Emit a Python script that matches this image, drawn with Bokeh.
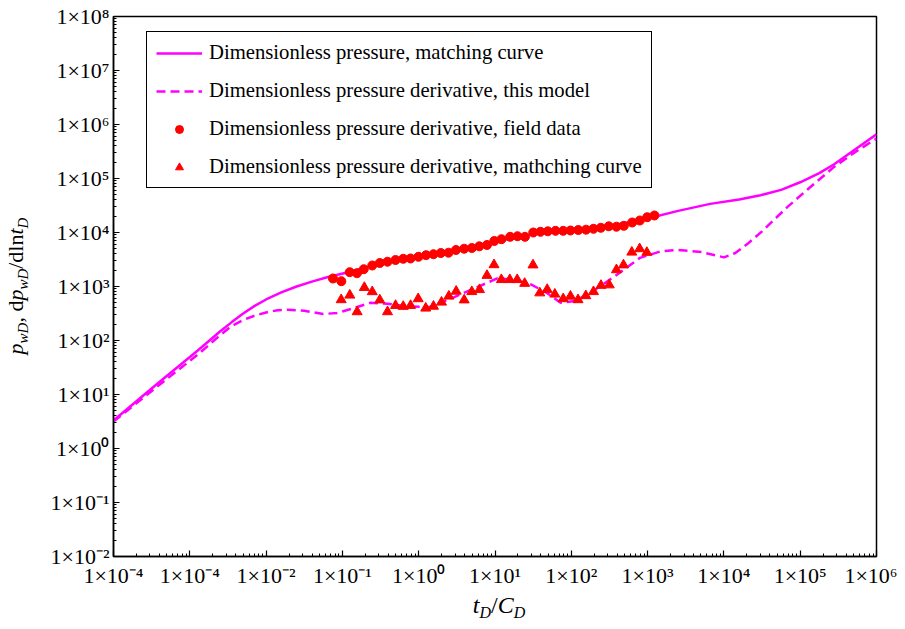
from bokeh.plotting import figure
from bokeh.models import FixedTicker, Legend, LegendItem, Div
from bokeh.layouts import row, column
from bokeh.embed import file_html
from bokeh.resources import INLINE

# Dimensionless pressure, matching curve (solid)
curve_t = [1e-4, 3.55e-4, 1.26e-3, 1.78e-3, 2.51e-3, 3.55e-3, 5.01e-3, 7.08e-3, 0.01, 0.0158,
           0.0251, 0.0398, 0.0631, 0.115, 0.316, 1.0, 3.16, 10.0, 31.6, 100.0, 316.0,
           1000.0, 2512.0, 6607.0, 15849.0, 30200.0, 56234.0, 1e5, 177828.0, 275423.0,
           501187.0, 1e6]
curve_p = [3.31, 14.8, 64.6, 98.0, 148.0, 219.0, 316.0, 437.0, 575.0, 776.0,
           1000.0, 1230.0, 1479.0, 1820.0, 2630.0, 3631.0, 4898.0, 6761.0, 9333.0, 11220.0, 13183.0,
           18197.0, 25119.0, 33884.0, 40738.0, 48978.0, 61660.0, 85114.0, 125893.0, 181970.0,
           331131.0, 660693.0]

# Dimensionless pressure derivative, this model (dashed)
deriv_t = [1e-4, 3.55e-4, 1.38e-3, 2.24e-3, 3.39e-3, 5.01e-3, 7.08e-3, 0.01, 0.0141, 0.0191,
           0.0316, 0.0562, 0.0851, 0.141, 0.234, 0.389, 0.776, 1.41, 2.88, 5.25, 10.7, 17.4,
           29.5, 47.9, 72.4, 112.0, 200.0, 380.0, 794.0, 1479.0, 2455.0, 5012.0, 1e4,
           14125.0, 20417.0, 31623.0, 67608.0, 125893.0, 275423.0, 501187.0, 1e6]
deriv_p = [3.16, 13.2, 60.3, 110.0, 178.0, 240.0, 288.0, 331.0, 363.0, 372.0,
           355.0, 309.0, 324.0, 398.0, 501.0, 479.0, 427.0, 417.0, 631.0, 912.0, 1413.0, 1349.0,
           1096.0, 759.0, 501.0, 537.0, 851.0, 1585.0, 3388.0, 4467.0, 4786.0, 4365.0, 3467.0,
           4169.0, 6166.0, 10471.0, 29512.0, 63096.0, 162181.0, 295121.0, 549541.0]

# Dimensionless pressure derivative, field data (circles)
field_t = [0.0753, 0.0968, 0.1247, 0.1552, 0.1905, 0.246, 0.309, 0.390, 0.497, 0.627,
           0.782, 0.993, 1.247, 1.563, 1.950, 2.46, 3.08, 3.94, 4.97, 6.22,
           7.85, 9.79, 12.16, 15.8, 19.7, 24.7, 31.7, 39.4, 49.2, 62.1,
           78.3, 97.5, 123.6, 156.0, 195.4, 244.0, 310.0, 391.0, 488.0, 628.0,
           791.0, 989.0, 1230.0]
field_d = [1406, 1253, 1841, 1762, 2089, 2449, 2723, 2877, 3097, 3258,
           3304, 3548, 3802, 3963, 4169, 4227, 4742, 5012, 5164, 5546,
           5875, 6966, 7516, 8318, 8531, 8318, 10000, 10304, 10520, 10740,
           10740, 10890, 11117, 11272, 11722, 12218, 13032, 12794, 13305, 15311,
           16672, 19187, 20654]

# Dimensionless pressure derivative, matching curve (triangles)
match_t = [0.0964, 0.125, 0.156, 0.194, 0.246, 0.309, 0.390, 0.497, 0.627, 0.782,
           0.984, 1.236, 1.563, 1.991, 2.483, 3.097, 3.945, 4.966, 6.266, 7.852,
           9.705, 12.11, 15.63, 19.54, 24.49, 31.48, 38.64, 48.31, 60.81, 78.34,
           97.5, 122.5, 154.9, 195.4, 244.9, 314.1, 390.8, 483.1, 620.9, 787.0, 977.0]
match_d = [567.5, 690.2, 339.6, 957.2, 798.0, 562.3, 339.6, 444.6, 426.6, 444.6,
           591.6, 396.3, 429.5, 511.7, 660.7, 814.7, 562.3, 801.8, 873.0, 1600.0,
           2523.0, 1337.0, 1337.0, 1337.0, 1138.0, 2500.0, 758.6, 879.0, 719.5, 591.6,
           659.2, 567.5, 673.0, 801.8, 1045.0, 1067.0, 2037.0, 2500.0, 4315.0, 4989.0, 4266.0]

x_tick_values = [1e-4, 1e-3, 1e-2, 1e-1, 1e0, 1e1, 1e2, 1e3, 1e4, 1e5, 1e6]
x_tick_labels = ["1×10⁻⁴", "1×10⁻⁴", "1×10⁻²", "1×10⁻¹", "1×10⁰", "1×10¹",
                 "1×10²", "1×10³", "1×10⁴", "1×10⁵", "1×10⁶"]
y_tick_values = [1e-2, 1e-1, 1e0, 1e1, 1e2, 1e3, 1e4, 1e5, 1e6, 1e7, 1e8]
y_tick_labels = ["1×10⁻²", "1×10⁻¹", "1×10⁰", "1×10¹", "1×10²", "1×10³",
                 "1×10⁴", "1×10⁵", "1×10⁶", "1×10⁷", "1×10⁸"]

legend_labels = ["Dimensionless pressure, matching curve",
                 "Dimensionless pressure derivative, this model",
                 "Dimensionless pressure derivative, field data",
                 "Dimensionless pressure derivative, mathching curve"]

FONT = "Liberation Serif"
MAGENTA = "#FF00FF"
RED = "#FF0000"

YDIV_W = 30
p = figure(width=867, height=590, x_axis_type="log", y_axis_type="log",
           x_range=(1e-4, 1e6), y_range=(1e-2, 1e8),
           output_backend="svg", toolbar_location=None,
           min_border_left=113 - YDIV_W, min_border_right=21, min_border_top=16, min_border_bottom=34)

p.grid.visible = False
p.outline_line_color = "black"
p.outline_line_width = 1.5
p.outline_line_alpha = 1.0
p.background_fill_color = "white"
p.border_fill_color = "white"

minor_x = [m * 10.0 ** k for k in range(-4, 6) for m in range(2, 10)]
minor_y = [m * 10.0 ** k for k in range(-2, 8) for m in range(2, 10)]
p.xaxis.ticker = FixedTicker(ticks=x_tick_values, minor_ticks=minor_x)
p.yaxis.ticker = FixedTicker(ticks=y_tick_values, minor_ticks=minor_y)
p.xaxis.major_label_overrides = {v: s for v, s in zip(x_tick_values, x_tick_labels)}
p.yaxis.major_label_overrides = {v: s for v, s in zip(y_tick_values, y_tick_labels)}

for ax in (p.xaxis, p.yaxis):
    ax.axis_line_color = "black"
    ax.axis_line_width = 1.5
    ax.major_tick_in = 6
    ax.major_tick_out = 0
    ax.minor_tick_in = 3
    ax.minor_tick_out = 0
    ax.major_tick_line_color = "black"
    ax.minor_tick_line_color = "black"
    ax.major_tick_line_width = 1.2
    ax.minor_tick_line_width = 1
    ax.major_label_text_font = FONT
    ax.major_label_text_font_size = "22px"
    ax.major_label_text_color = "black"
p.xaxis.major_label_standoff = 6
p.yaxis.major_label_standoff = 4

r_solid = p.line(curve_t, curve_p, line_color=MAGENTA, line_width=2.5)
r_dash = p.line(deriv_t, deriv_p, line_color=MAGENTA, line_width=2.5, line_dash="9 5")
r_circ = p.scatter(field_t, field_d, marker="circle", size=9, fill_color=RED, line_color=RED)
r_tri = p.scatter(match_t, match_d, marker="triangle", size=10, fill_color=RED, line_color=RED)

legend = Legend(items=[LegendItem(label=legend_labels[0], renderers=[r_solid]),
                       LegendItem(label=legend_labels[1], renderers=[r_dash]),
                       LegendItem(label=legend_labels[2], renderers=[r_circ]),
                       LegendItem(label=legend_labels[3], renderers=[r_tri])],
                location=(33, 368))
legend.border_line_color = "black"
legend.border_line_width = 1.5
legend.border_line_alpha = 1.0
legend.background_fill_alpha = 1.0
legend.padding = 9
legend.margin = 0
legend.spacing = 15
legend.glyph_width = 46
legend.glyph_height = 20
legend.label_height = 20
legend.label_standoff = 7
legend.label_text_font = FONT
legend.label_text_font_size = "20.7px"
legend.label_text_color = "black"
p.add_layout(legend, "center")

SUBY = "position:relative;top:5px;"
ylabel_html = (
    '<div style="position:relative;width:%dpx;height:590px;">'
    '<div style="position:absolute;left:-84px;top:275px;width:200px;height:22px;line-height:22px;'
    'text-align:center;transform:rotate(-90deg);white-space:nowrap;'
    "font-family:'Liberation Serif';font-size:22px;color:black;\">"
    '<i>p</i><i style="font-size:15px;%s">wD</i>, d<i>p</i><i style="font-size:15px;%s">wD</i>'
    '/dln<i>t</i><i style="font-size:15px;%s">D</i>'
    '</div></div>' % (YDIV_W, SUBY, SUBY, SUBY))
xlabel_html = (
    '<div style="position:relative;width:897px;height:35px;">'
    '<div style="position:absolute;left:399px;top:3px;width:200px;height:24px;line-height:24px;'
    'text-align:center;white-space:nowrap;'
    "font-family:'Liberation Serif';font-size:24px;color:black;\">"
    '<i>t</i><i style="font-size:16px;position:relative;top:5px;">D</i>/<i>C</i>'
    '<i style="font-size:16px;position:relative;top:5px;">D</i>'
    '</div></div>')

ydiv = Div(text=ylabel_html, width=YDIV_W, height=590, margin=0)
xdiv = Div(text=xlabel_html, width=897, height=35, margin=0)

layout = column(row(ydiv, p, spacing=0), xdiv, spacing=0)

open("out.html", "w").write(file_html(layout, INLINE))
